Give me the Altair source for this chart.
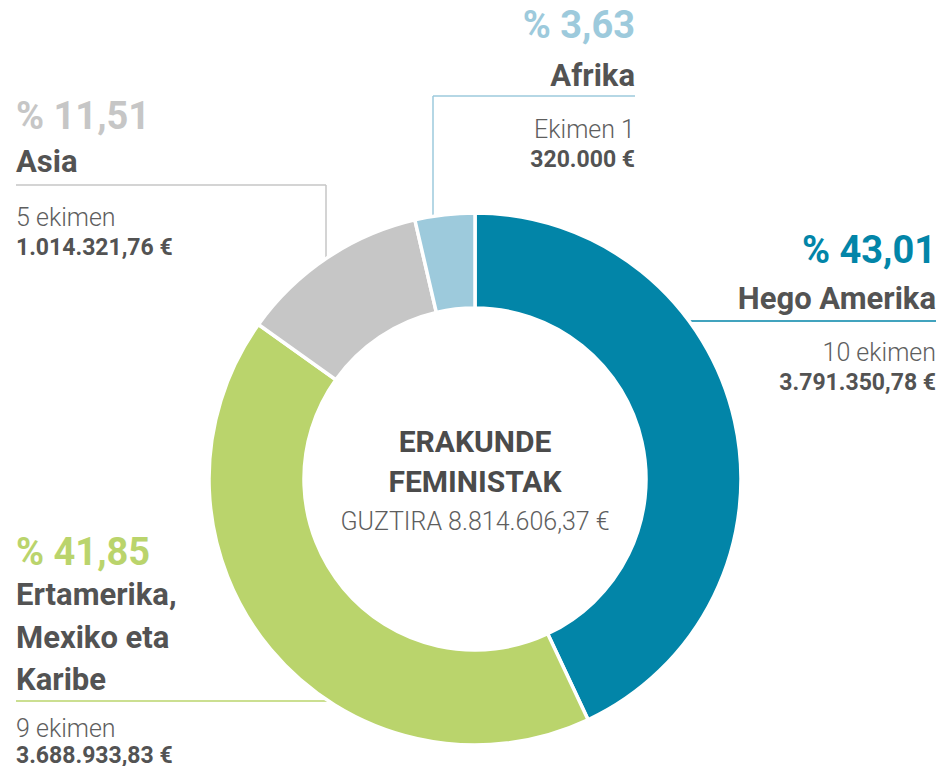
import altair as alt
import pandas as pd

# ---------------- data ----------------
regions = ["Hego Amerika", "Ertamerika, Mexiko eta Karibe", "Asia", "Afrika"]
amounts = [3791350.78, 3688933.83, 1014321.76, 320000.00]
percent_labels = ["% 43,01", "% 41,85", "% 11,51", "% 3,63"]
name_lines = [["Hego Amerika"], ["Ertamerika,", "Mexiko eta", "Karibe"], ["Asia"], ["Afrika"]]
count_labels = ["10 ekimen", "9 ekimen", "5 ekimen", "Ekimen 1"]
amount_labels = ["3.791.350,78 €", "3.688.933,83 €", "1.014.321,76 €", "320.000 €"]
center_title = ["ERAKUNDE", "FEMINISTAK"]
center_total = "GUZTIRA 8.814.606,37 €"

# ---------------- styles / layout (page coordinates) ----------------
colors = ["#0285A8", "#BAD46C", "#C6C6C6", "#9DCADC"]
TEXT_DARK = "#535353"
TEXT_MID = "#5e5e5e"
FONT = "Roboto"
OFFX, OFFY = 10, 10  # page margin (+ small shift so everything fits in the view)
CX, CY, R_OUT, R_IN = 477, 481, 266, 171

layout = [
    dict(x=938, align="right", pct_y=265, name_y=[311], count_y=363, amount_y=392,
         conn=[(689, 323, 938, 323)]),
    dict(x=18, align="left", pct_y=567, name_y=[607, 650, 692], count_y=739, amount_y=765,
         conn=[(18, 703, 333, 703)]),
    dict(x=18, align="left", pct_y=131, name_y=[174], count_y=228, amount_y=257,
         conn=[(18, 187, 328, 187), (328, 187, 328, 263)]),
    dict(x=637, align="right", pct_y=40, name_y=[88], count_y=140, amount_y=169,
         conn=[(435, 98, 637, 98), (435, 98, 435, 220)]),
]

# ---------------- build tables ----------------
pie_df = pd.DataFrame({"region": regions, "amount": amounts, "idx": list(range(len(regions)))})

rows = {"pct": [], "name": [], "count": [], "amount": []}
rules = []
for i, lay in enumerate(layout):
    base = dict(x=lay["x"] - OFFX, align=lay["align"])
    rows["pct"].append({**base, "y": lay["pct_y"] - OFFY, "t": percent_labels[i], "c": colors[i]})
    for ln, yy in zip(name_lines[i], lay["name_y"]):
        rows["name"].append({**base, "y": yy - OFFY, "t": ln, "c": TEXT_DARK})
    rows["count"].append({**base, "y": lay["count_y"] - OFFY, "t": count_labels[i], "c": TEXT_MID})
    rows["amount"].append({**base, "y": lay["amount_y"] - OFFY, "t": amount_labels[i], "c": TEXT_DARK})
    for (x1, y1, x2, y2) in lay["conn"]:
        rules.append(dict(x=x1 - OFFX, y=y1 - OFFY, x2=x2 - OFFX, y2=y2 - OFFY, c=colors[i]))

center_rows = [
    dict(x=CX - OFFX, y=454 - OFFY, t=center_title[0], c="#4b4b4b", kind="title"),
    dict(x=CX - OFFX, y=494 - OFFY, t=center_title[1], c="#4b4b4b", kind="title"),
    dict(x=CX - OFFX, y=532 - OFFY, t=center_total, c=TEXT_MID, kind="total"),
]

STYLE = {
    "pct": dict(fontSize=38, fontWeight="bold"),
    "name": dict(fontSize=31, fontWeight="bold"),
    "count": dict(fontSize=25, fontWeight=300),
    "amount": dict(fontSize=23, fontWeight="bold"),
}


def text_layer(df, align, **style):
    return alt.Chart(df).mark_text(align=align, baseline="alphabetic", font=FONT, **style).encode(
        x=alt.X("x:Q", scale=None, axis=None),
        y=alt.Y("y:Q", scale=None, axis=None),
        text="t:N",
        color=alt.Color("c:N", scale=None),
    )


layers = []

rule_df = pd.DataFrame(rules)
layers.append(
    alt.Chart(rule_df).mark_rule(strokeWidth=1.5).encode(
        x=alt.X("x:Q", scale=None, axis=None),
        y=alt.Y("y:Q", scale=None, axis=None),
        x2="x2:Q",
        y2="y2:Q",
        color=alt.Color("c:N", scale=None),
    )
)

layers.append(
    alt.Chart(pie_df).mark_arc(radius=R_OUT, innerRadius=R_IN, stroke="white", strokeWidth=3.5).encode(
        theta=alt.Theta("amount:Q", stack=True),
        color=alt.Color("region:N", scale=alt.Scale(domain=regions, range=colors), legend=None),
        order=alt.Order("idx:Q"),
        x=alt.value(CX - OFFX),
        y=alt.value(CY - OFFY),
    )
)

for kind, recs in rows.items():
    df = pd.DataFrame(recs)
    for al in ["left", "right"]:
        sub = df[df["align"] == al]
        if len(sub):
            layers.append(text_layer(sub, al, **STYLE[kind]))

cdf = pd.DataFrame(center_rows)
layers.append(text_layer(cdf[cdf.kind == "title"], "center", fontSize=30, fontWeight="bold"))
layers.append(text_layer(cdf[cdf.kind == "total"], "center", fontSize=25, fontWeight=300))

chart = alt.layer(*layers).properties(
    width=928, height=758, padding=0, autosize="none"
).configure_view(stroke=None)

chart.save("out.html", embed_options={"renderer": "svg", "actions": False})
